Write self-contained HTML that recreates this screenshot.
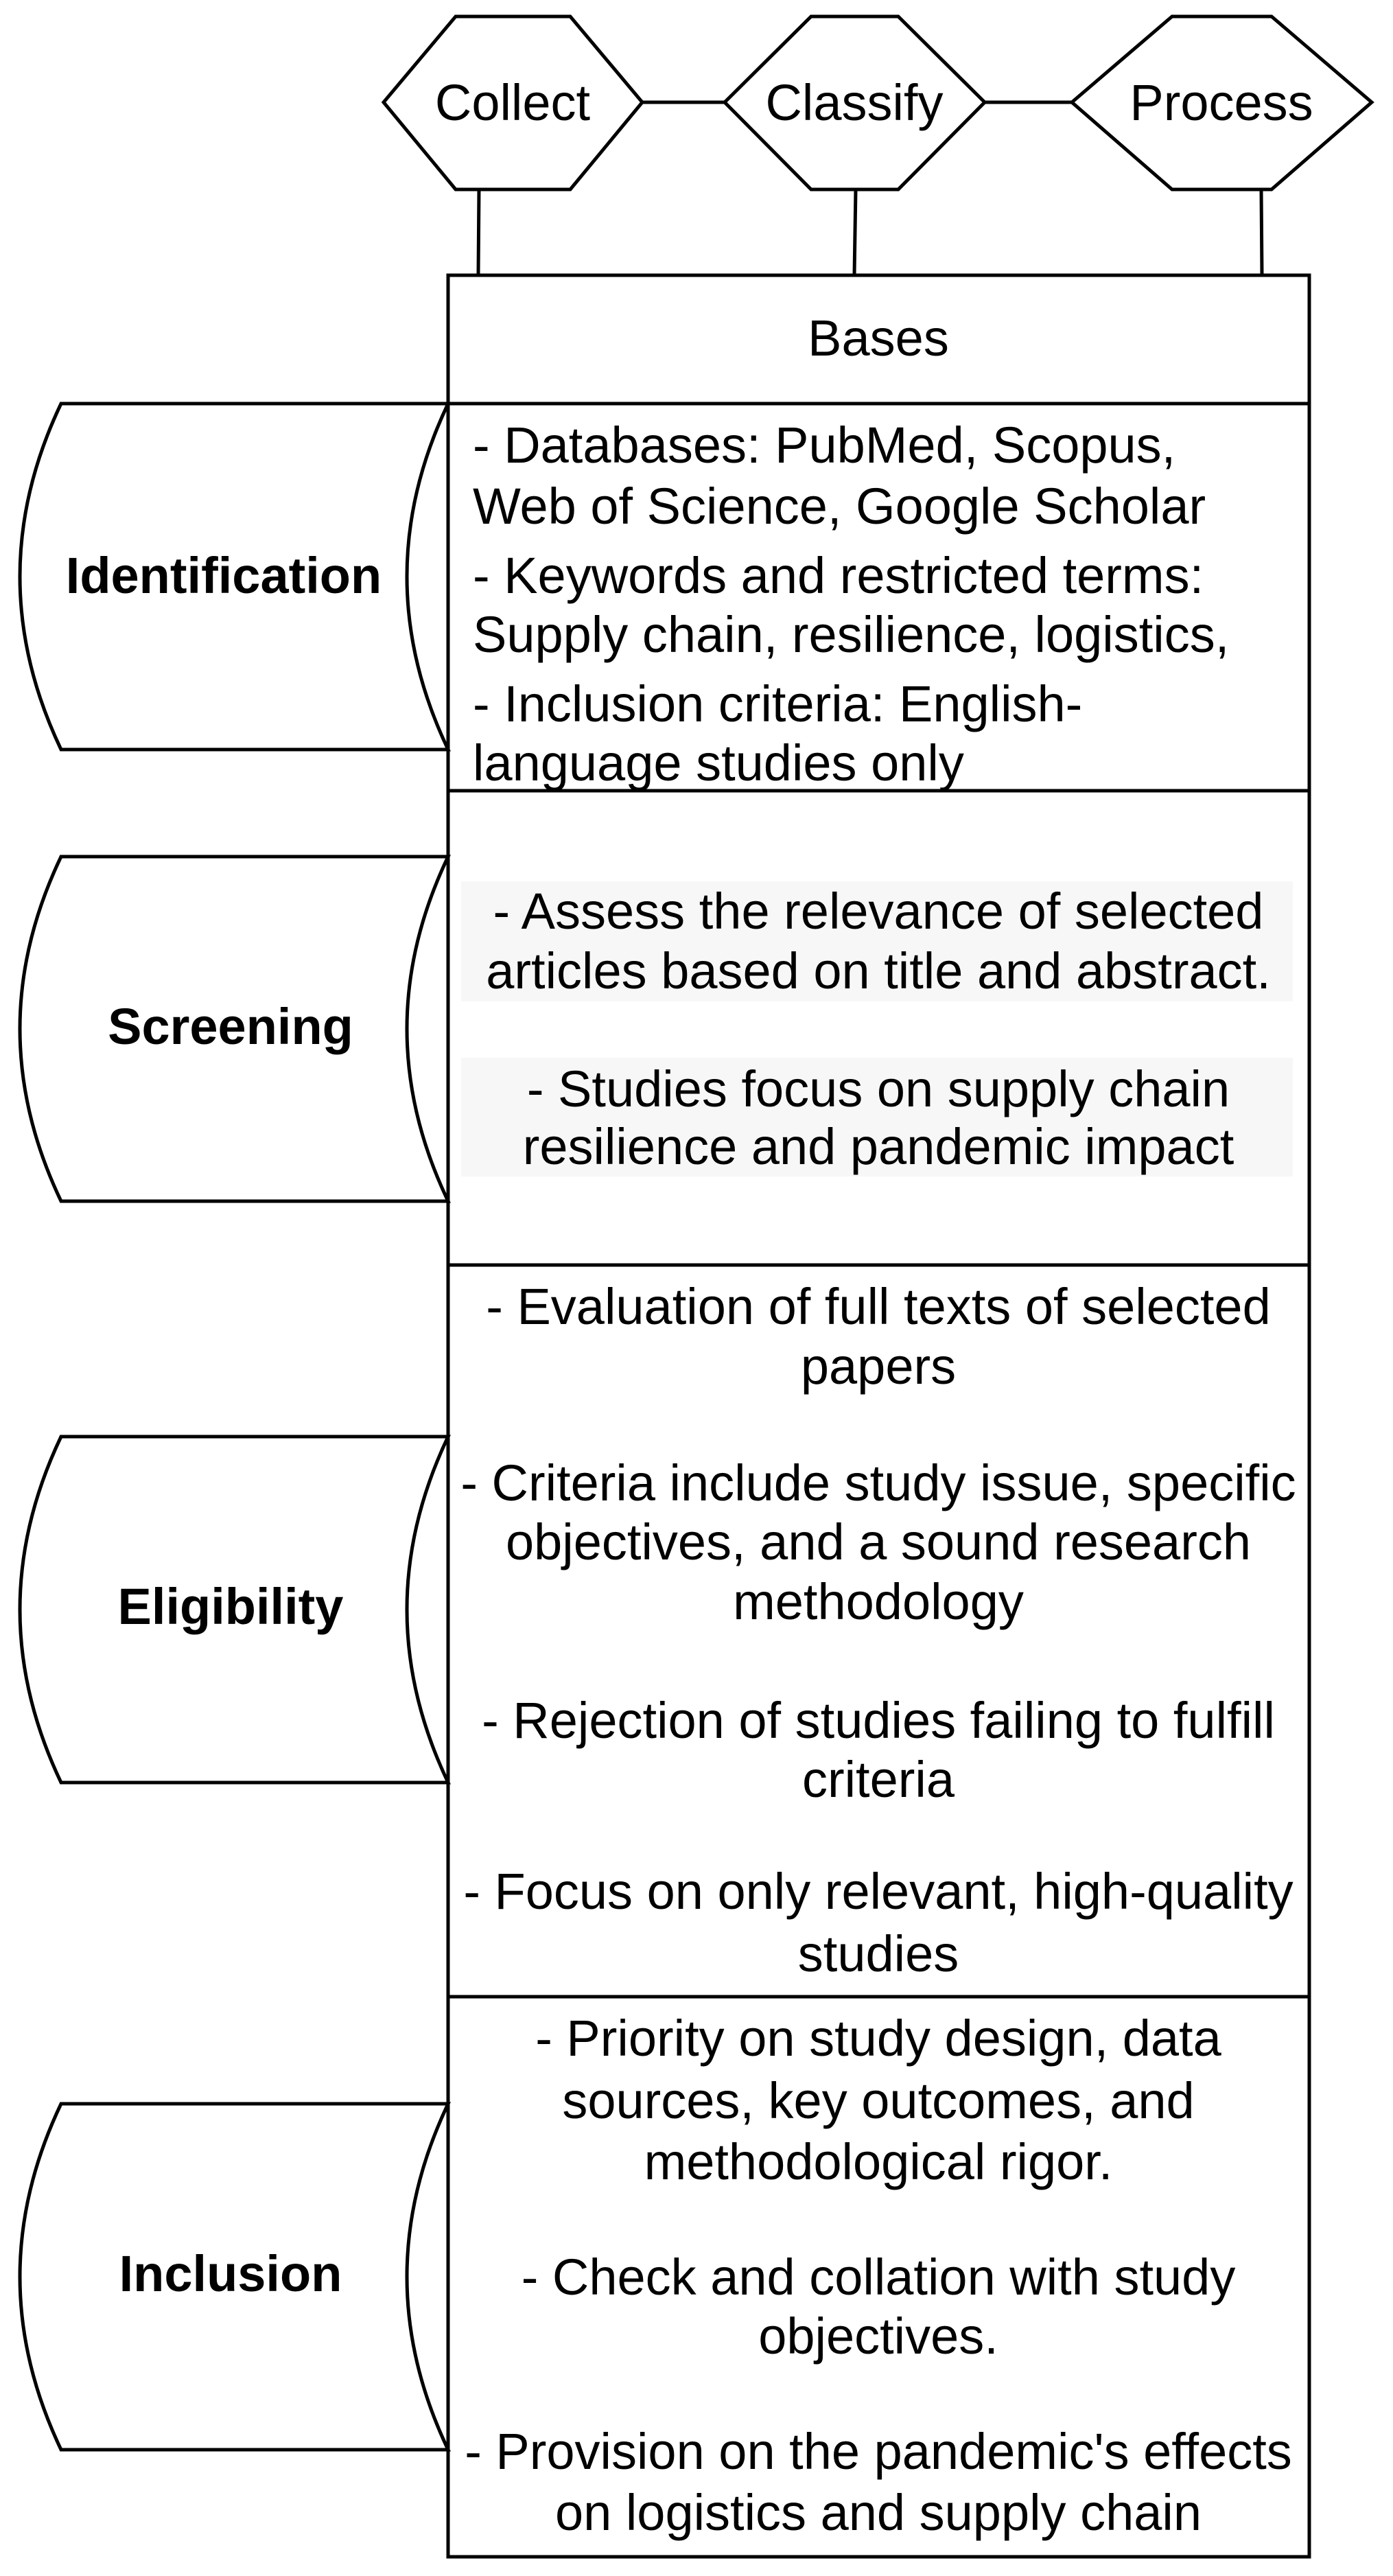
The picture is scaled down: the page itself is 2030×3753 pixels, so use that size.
<!DOCTYPE html>
<html><head><meta charset="utf-8"><style>
html,body{margin:0;padding:0;background:#fff}
svg{display:block}
text{font-family:"Liberation Sans",Arial,sans-serif;font-size:74px;fill:#000}
.b{font-weight:bold}
</style></head><body>
<svg width="2030" height="3753" viewBox="0 0 2030 3753" xmlns="http://www.w3.org/2000/svg">
<g fill="none" stroke="#000" stroke-width="5">
<line x1="936" y1="149" x2="1056" y2="149"/>
<line x1="1435" y1="149" x2="1562" y2="149"/>
<polygon points="559,149 664,24 831,24 936,149 831,276 664,276" fill="#fff"/>
<polygon points="1056,149 1182,24 1309,24 1435,149 1309,276 1182,276" fill="#fff"/>
<polygon points="1562,149 1708,24 1853,24 1999,149 1853,276 1708,276" fill="#fff"/>
<line x1="698" y1="276" x2="697" y2="401"/>
<line x1="1247" y1="276" x2="1245" y2="401"/>
<line x1="1838" y1="276" x2="1839" y2="401"/>
</g>
<rect x="672" y="1284" width="1212" height="175" fill="#f7f7f7"/>
<rect x="672" y="1541" width="1212" height="173" fill="#f7f7f7"/>
<g fill="#fff" stroke="#000" stroke-width="5">
<path d="M89,588 L653,588 Q533,840 653,1092 L89,1092 Q-31,840 89,588 Z"/>
<path d="M89,1248 L653,1248 Q533,1499 653,1750 L89,1750 Q-31,1499 89,1248 Z"/>
<path d="M89,2093 L653,2093 Q533,2345 653,2597 L89,2597 Q-31,2345 89,2093 Z"/>
<path d="M89,3065 L653,3065 Q533,3317 653,3569 L89,3569 Q-31,3317 89,3065 Z"/>
</g>
<g fill="none" stroke="#000" stroke-width="5">
<rect x="653" y="401" width="1255" height="3324"/>
<line x1="653" y1="588" x2="1908" y2="588"/>
<line x1="653" y1="1152" x2="1908" y2="1152"/>
<line x1="653" y1="1843" x2="1908" y2="1843"/>
<line x1="653" y1="2909" x2="1908" y2="2909"/>
</g>
<g text-anchor="middle">
<text x="747" y="175">Collect</text>
<text x="1245" y="175">Classify</text>
<text x="1780" y="175">Process</text>
<text x="1280" y="518">Bases</text>
<text class="b" x="326" y="864">Identification</text>
<text class="b" x="336" y="1521">Screening</text>
<text class="b" x="336" y="2366">Eligibility</text>
<text class="b" x="336" y="3338">Inclusion</text>
</g>
<text x="689" y="674">- Databases: PubMed, Scopus,</text>
<text x="689" y="763">Web of Science, Google Scholar</text>
<text x="689" y="864">- Keywords and restricted terms:</text>
<text x="689" y="950">Supply chain, resilience, logistics,</text>
<text x="689" y="1051">- Inclusion criteria: English-</text>
<text x="689" y="1137">language studies only</text>
<g text-anchor="middle">
<text x="1280" y="1353">- Assess the relevance of selected</text>
<text x="1280" y="1440">articles based on title and abstract.</text>
<text x="1280" y="1612">- Studies focus on supply chain</text>
<text x="1280" y="1696">resilience and pandemic impact</text>
<text x="1280" y="1929">- Evaluation of full texts of selected</text>
<text x="1280" y="2016">papers</text>
<text x="1280" y="2186">- Criteria include study issue, specific</text>
<text x="1280" y="2272">objectives, and a sound research</text>
<text x="1280" y="2359">methodology</text>
<text x="1280" y="2532">- Rejection of studies failing to fulfill</text>
<text x="1280" y="2618">criteria</text>
<text x="1280" y="2781">- Focus on only relevant, high-quality</text>
<text x="1280" y="2872">studies</text>
<text x="1280" y="2995">- Priority on study design, data</text>
<text x="1280" y="3086">sources, key outcomes, and</text>
<text x="1280" y="3175">methodological rigor.</text>
<text x="1280" y="3343">- Check and collation with study</text>
<text x="1280" y="3429">objectives.</text>
<text x="1280" y="3597">- Provision on the pandemic's effects</text>
<text x="1280" y="3686">on logistics and supply chain</text>
</g>
</svg>
</body></html>
